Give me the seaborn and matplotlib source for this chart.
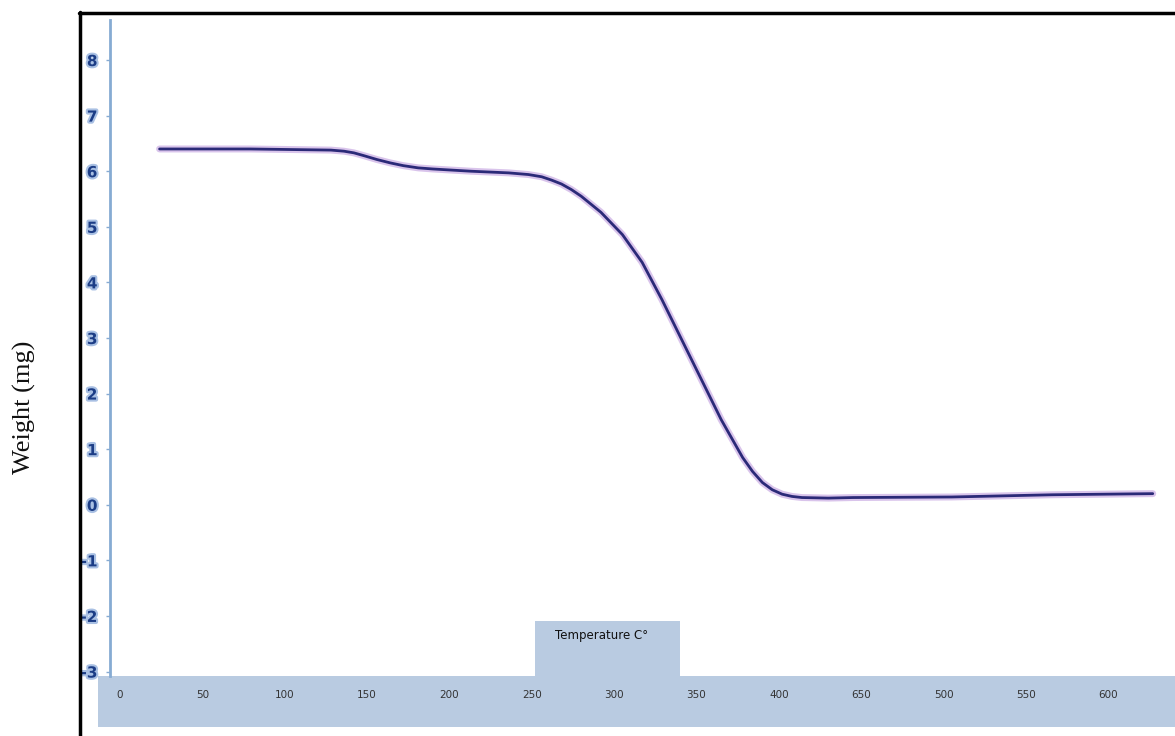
import matplotlib
matplotlib.use("Agg")
import matplotlib.pyplot as plt
import matplotlib.patheffects as pe
from matplotlib.patches import Rectangle
from matplotlib.lines import Line2D
import seaborn as sns
import pandas as pd

# TGA curve: sample weight against temperature
temperature_c = [24, 79, 128, 136, 142, 148, 156, 164, 172, 181, 190, 213, 236, 248, 256,
                 262, 268, 274, 280, 292, 305, 317, 329, 341, 353, 365, 378, 384, 390,
                 396, 402, 408, 414, 430, 445, 505, 566, 627]
weight_mg = [6.40, 6.40, 6.38, 6.36, 6.33, 6.28, 6.21, 6.15, 6.10, 6.06, 6.04, 6.00, 5.97,
             5.94, 5.90, 5.84, 5.77, 5.67, 5.55, 5.26, 4.86, 4.36, 3.69, 2.97, 2.25, 1.53,
             0.85, 0.60, 0.40, 0.27, 0.19, 0.15, 0.13, 0.12, 0.13, 0.14, 0.18, 0.20]

x_ticks = [0, 50, 100, 150, 200, 250, 300, 350, 400, 450, 500, 550, 600]
x_tick_labels = ["0", "50", "100", "150", "200", "250", "300", "350", "400", "650", "500", "550", "600"]
y_ticks = [-3, -2, -1, 0, 1, 2, 3, 4, 5, 6, 7, 8]
y_tick_labels = [str(v) for v in y_ticks]

df = pd.DataFrame({"Temperature": temperature_c, "Weight": weight_mg})

sns.set_theme(style="white")
plt.rcParams["font.serif"] = ["Liberation Serif", "Times New Roman", "DejaVu Serif"]
W, H = 1175, 736
fig = plt.figure(figsize=(W / 100, H / 100), dpi=100)
fig.patch.set_facecolor("white")

def fx(px):
    return px / W

def fy(py):
    return 1 - py / H

ax = fig.add_axes([fx(110), fy(676), fx(1175) - fx(110), fy(20) - fy(676)])
ax.set_facecolor("none")
ax.set_zorder(2)

# soft halo under the trace, then the trace itself
sns.lineplot(data=df, x="Temperature", y="Weight", ax=ax, color="#b48ad8",
             linewidth=5, alpha=0.5, sort=True, estimator=None)
sns.lineplot(data=df, x="Temperature", y="Weight", ax=ax, color="#2b2a78",
             linewidth=2.0, sort=True, estimator=None)

ax.set_xlim(-6.1, 640.5)
ax.set_ylim(-3.08, 8.72)

for side in ["top", "right", "bottom"]:
    ax.spines[side].set_visible(False)
ax.spines["left"].set_color("#86abd3")
ax.spines["left"].set_linewidth(2)

ax.set_xticks(x_ticks)
ax.set_xticklabels(x_tick_labels, fontsize=7.5, color="#333333")
ax.tick_params(axis="x", length=0, pad=10)

ax.set_yticks(y_ticks)
ax.set_yticklabels(y_tick_labels, fontsize=11, fontweight="bold", color="#1c3d86")
ax.tick_params(axis="y", length=3, width=1, color="#86abd3", direction="out", pad=6, left=True)
for lbl in ax.get_yticklabels():
    lbl.set_path_effects([pe.withStroke(linewidth=3, foreground="#a9c0e3")])

ax.set_xlabel("")
ax.set_ylabel("")
ax.grid(False)

# x-axis band and title tab
fig.patches.append(Rectangle((fx(98), fy(727)), fx(1175) - fx(98), fy(676) - fy(727),
                             transform=fig.transFigure, facecolor="#b9cbe1",
                             edgecolor="none", zorder=0.5))
fig.patches.append(Rectangle((fx(535), fy(676)), fx(680) - fx(535), fy(621) - fy(676),
                             transform=fig.transFigure, facecolor="#b9cbe1",
                             edgecolor="none", zorder=0.5))
fig.text(fx(555), fy(635), "Temperature C°", fontsize=8.5, color="#111111",
         ha="left", va="center", zorder=3)

fig.text(fx(24), fy(407), "Weight (mg)", rotation=90, fontsize=19,
         family="serif", ha="center", va="center", color="#111111")

# outer frame
fig.lines.append(Line2D([fx(80), fx(80)], [fy(12), 0], transform=fig.transFigure,
                        color="black", linewidth=2.5, zorder=3))
fig.lines.append(Line2D([fx(79), 1], [fy(13), fy(13)], transform=fig.transFigure,
                        color="black", linewidth=2.5, zorder=3))

fig.savefig("out.png", dpi=100, facecolor="white")
